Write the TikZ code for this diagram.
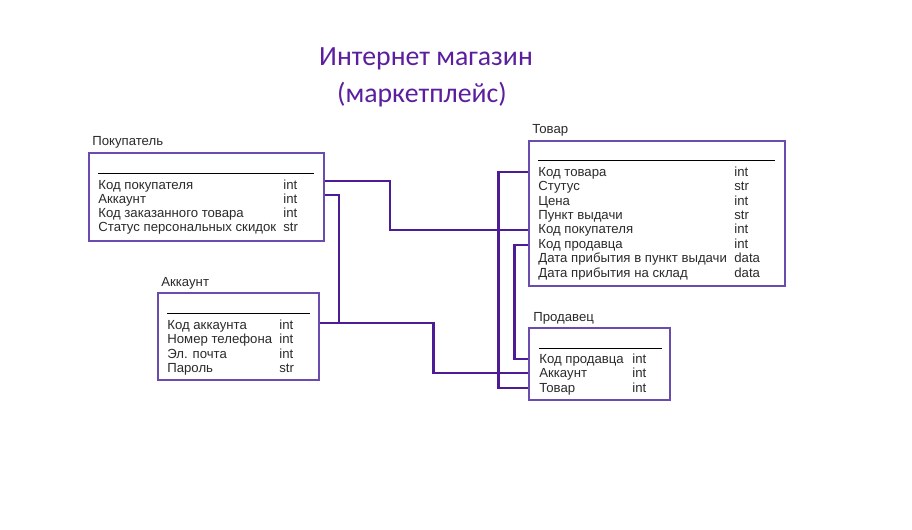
\documentclass[tikz,border=0pt]{standalone}
\usepackage{fontspec}
\setmainfont{Liberation Sans}
\newfontfamily\titlefont{Carlito}
\usetikzlibrary{fit}
\definecolor{boxcol}{HTML}{6A4CAF}
\definecolor{linkcol}{HTML}{4B1C96}
\definecolor{titlecol}{HTML}{5B1F9E}
\definecolor{txtcol}{HTML}{2A2A2A}

\begin{document}
\begin{tikzpicture}[x=0.02cm,y=-0.02cm,
    tbl/.style = {draw=boxcol, line width=1.1pt, inner sep=0pt},
    row/.style = {anchor=base west, inner sep=0pt, text=txtcol, font=\fontsize{7.5}{8}\selectfont},
    head/.style = {row},
    link/.style = {draw=linkcol, line width=1.7pt}]
      \useasboundingbox (0,0) rectangle (912,530);

      % Title
      \node[text=titlecol, font=\titlefont\fontsize{15.8}{20}\selectfont] (t1) at (426,59) {Интернет магазин};
      \node[text=titlecol, font=\titlefont\fontsize{15.8}{20}\selectfont] (t2) at (422,95) {(маркетплейс)};

      % Tables
      \node[tbl, fit={(89,153) (324,241)}] (buyer) {};
      \node[head] (hbuyer) at (92,146) {Покупатель};
      \draw (98,173) -- (314,173);
      \foreach \n/\t [count=\i] in {Код покупателя/int, Аккаунт/int,
          Код заказанного товара/int, Статус персональных скидок/str}{
        \node[row] (b\i) at (98,175.5+14*\i) {\n};
        \node[row] (bt\i) at (283,175.5+14*\i) {\t};
      }

      \node[tbl, fit={(158,293) (319,380)}] (acc) {};
      \node[head] (hacc) at (161,286) {Аккаунт};
      \draw (167,313) -- (310,313);
      \foreach \n/\t [count=\i] in {Код аккаунта/int, Номер телефона/int,
          Эл. почта/int, Пароль/str}{
        \node[row] (a\i) at (167,315+14.4*\i) {\n};
        \node[row] (at\i) at (279,315+14.4*\i) {\t};
      }

      \node[tbl, fit={(529,141) (785,286)}] (goods) {};
      \node[head] (hgoods) at (532,134) {Товар};
      \draw (538,160) -- (775,160);
      \foreach \n/\t [count=\i] in {Код товара/int, Стутус/str, Цена/int,
          Пункт выдачи/str, Код покупателя/int, Код продавца/int,
          Дата прибытия в пункт выдачи/data, Дата прибытия на склад/data}{
        \node[row] (g\i) at (538,162+14.4*\i) {\n};
        \node[row] (gt\i) at (734,162+14.4*\i) {\t};
      }

      \node[tbl, fit={(529,328) (670,400)}] (seller) {};
      \node[head] (hseller) at (533,321) {Продавец};
      \draw (539,348) -- (662,348);
      \foreach \n/\t [count=\i] in {Код продавца/int, Аккаунт/int, Товар/int}{
        \node[row] (s\i) at (539,349+14.4*\i) {\n};
        \node[row] (st\i) at (632,349+14.4*\i) {\t};
      }

      % Links
      \coordinate (k1) at (390,230);
      \coordinate (k2) at (339,323);
      \coordinate (k3) at (433,373);
      \coordinate (k4) at (498,388);
      \coordinate (k5) at (514,359);
      \draw[link] (buyer.east |- 0,181) -| (k1) -- (goods.west |- k1);
      \draw[link] (buyer.east |- 0,195) -| (k2);
      \draw[link] (acc.east |- k2) -| (k3) -- (seller.west |- k3);
      \draw[link] (goods.west |- 0,172) -| (k4) -- (seller.west |- k4);
      \draw[link] (goods.west |- 0,245) -| (k5) -- (seller.west |- k5);
    \end{tikzpicture}
\end{document}
